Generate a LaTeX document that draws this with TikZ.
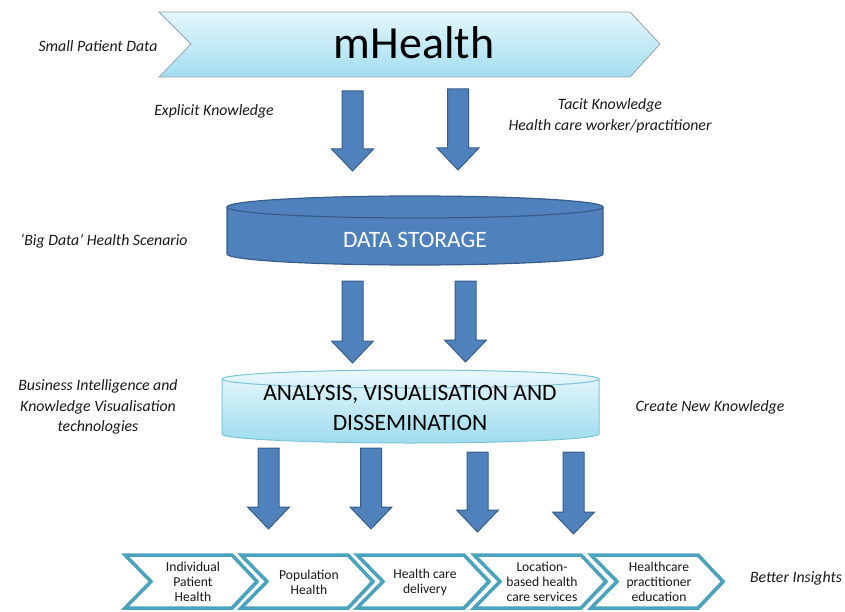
\documentclass[tikz,border=0pt]{standalone}
\usepackage{fontspec}
\setmainfont{Carlito}
\usetikzlibrary{shadows}
\definecolor{arrowfill}{HTML}{4F81BD}
\definecolor{arrowline}{HTML}{385D8A}
\definecolor{chevline}{HTML}{4AA3BD}
\definecolor{mtop}{HTML}{E4F6FB}
\definecolor{mbot}{HTML}{A3DEF0}
\definecolor{mline}{HTML}{8FA3AD}
\definecolor{atop}{HTML}{EAF8FC}
\definecolor{abot}{HTML}{9DDCEE}
\definecolor{aline}{HTML}{7CC4DA}
\tikzset{
  lbl/.style={font=\fontsize{15.8}{20.5}\selectfont\itshape, align=center, text=black!90, inner sep=0pt},
  barrowshape/.style={fill=arrowfill, draw=arrowline, line width=1pt, line join=miter},
  chevshape/.style={fill=white, draw=chevline, line width=3.5pt, line join=miter,
     drop shadow={shadow xshift=1.5pt, shadow yshift=-1.5pt, opacity=0.35, fill=black!60}},
  chevtext/.style={font=\fontsize{13.6}{15}\selectfont, align=center, text=black!90, inner sep=0pt},
}
\newcommand\blockarrow[3]{%
  \draw[barrowshape] (#1-10.5,#2) -- (#1+10.5,#2) -- (#1+10.5,#3-22) -- (#1+21,#3-22)
     -- (#1,#3) -- (#1-21,#3-22) -- (#1-10.5,#3-22) -- cycle;}
\newcommand\chevron[4]{%
  \draw[chevshape] (#1,555) -- (#1+107,555) -- (#1+132,581.5) -- (#1+107,608)
     -- (#1,608) -- (#1+26,581.5) -- cycle;
  \node[chevtext] (#2) at (#1+68,#4) {#3};}
\begin{document}
\begin{tikzpicture}[x=1pt,y=-1pt]
\useasboundingbox (0,0) rectangle (845,612);
% mHealth chevron
\draw[top color=mtop, bottom color=mbot, draw=mline, line width=0.8pt]
  (159,12) -- (630,12) -- (660,44) -- (630,77) -- (159,77) -- (191,44) -- cycle;
\node[font=\fontsize{46}{46}\selectfont, inner sep=0pt] (mh) at (414,43) {mHealth};
% labels
\node[lbl] (spd) at (98,46) {Small Patient Data};
\node[lbl] (ek) at (214,111) {Explicit Knowledge};
\node[lbl] (tk) at (610,116) {Tacit Knowledge\\Health care worker/practitioner};
\node[lbl] (bd) at (104,241) {‘Big Data’ Health Scenario};
\node[lbl] (bi) at (98,407) {Business Intelligence and\\Knowledge Visualisation\\technologies};
\node[lbl] (cnk) at (710,407) {Create New Knowledge};
\node[lbl] (bins) at (796,578) {Better Insights};
% arrows row 1
\blockarrow{352.5}{91}{171}
\blockarrow{458}{89}{170}
% data storage cylinder
\fill[arrowfill] (227,207) -- (227,254) arc[start angle=180, end angle=0, x radius=188, y radius=11]
  -- (603,207) arc[start angle=0, end angle=-180, x radius=188, y radius=11] -- cycle;
\draw[arrowline, line width=1.2pt] (227,207) -- (227,254) arc[start angle=180, end angle=0, x radius=188, y radius=11]
  -- (603,207);
\draw[arrowline, line width=1.2pt] (415,207) ellipse[x radius=188, y radius=11];
\node[font=\fontsize{23.5}{23.5}\selectfont, text=white, inner sep=0pt] (ds) at (415,240) {DATA STORAGE};
% arrows row 2
\blockarrow{352.5}{281}{363}
\blockarrow{465.5}{281}{362}
% analysis cylinder
\shade[top color=atop, bottom color=abot] (222,379) -- (222,434) arc[start angle=180, end angle=0, x radius=188.5, y radius=9]
  -- (599,379) arc[start angle=0, end angle=-180, x radius=188.5, y radius=9] -- cycle;
\draw[aline, line width=1pt] (222,379) -- (222,434) arc[start angle=180, end angle=0, x radius=188.5, y radius=9]
  -- (599,379);
\draw[aline, line width=1pt] (410.5,379) ellipse[x radius=188.5, y radius=9];
\node[font=\fontsize{23.5}{30}\selectfont, align=center, inner sep=0pt] (avd) at (410,408)
  {ANALYSIS, VISUALISATION AND\\DISSEMINATION};
% arrows row 3
\blockarrow{268.5}{448}{529}
\blockarrow{371}{448}{529}
\blockarrow{477.5}{452}{532}
\blockarrow{573.5}{452}{534}
% bottom chevrons
\chevron{125}{c1}{Individual\\Patient\\Health}{582}
\chevron{241}{c2}{Population\\Health}{582}
\chevron{357}{c3}{Health care\\delivery}{582}
\chevron{474}{c4}{Location-\\based health\\care services}{582}
\chevron{591}{c5}{Healthcare\\practitioner\\education}{582}
\end{tikzpicture}
\end{document}
